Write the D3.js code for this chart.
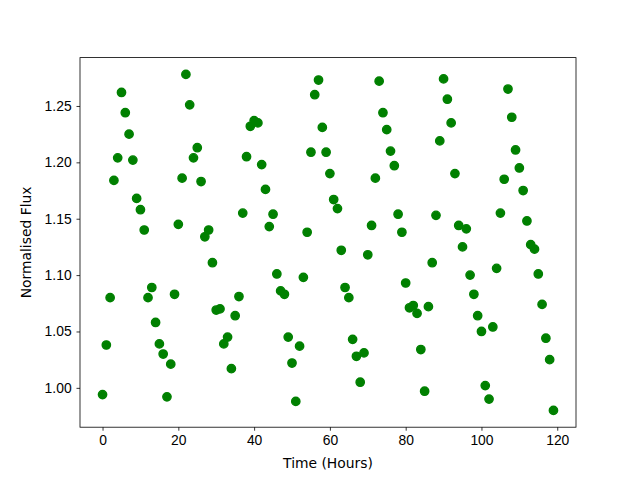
<!DOCTYPE html>
<html>
<head>
<meta charset="utf-8">
<script src="https://cdn.jsdelivr.net/npm/d3@7"></script>
<style>
  body { margin: 0; background: #fff; }
  svg { display: block; font-family: "DejaVu Sans", sans-serif; }
  .tick text { font-size: 13.89px; fill: #000; }
  .tick line { stroke: #000; stroke-width: 0.8; }
</style>
</head>
<body>
<div id="chart"></div>
<script>
// hours since start of observation
const hours = d3.range(0, 120);
// normalised flux, one value per hour
const flux = [
  0.994, 1.038, 1.080, 1.184, 1.204, 1.262, 1.244, 1.225, 1.202, 1.168,
  1.158, 1.140, 1.080, 1.089, 1.058, 1.039, 1.030, 0.992, 1.021, 1.083,
  1.145, 1.186, 1.278, 1.251, 1.204, 1.213, 1.183, 1.134, 1.140, 1.111,
  1.069, 1.070, 1.039, 1.045, 1.017, 1.064, 1.081, 1.155, 1.205, 1.232,
  1.237, 1.235, 1.198, 1.176, 1.143, 1.154, 1.101, 1.086, 1.083, 1.045,
  1.022, 0.988, 1.037, 1.098, 1.138, 1.209, 1.260, 1.273, 1.231, 1.209,
  1.190, 1.167, 1.159, 1.122, 1.089, 1.080, 1.043, 1.028, 1.005, 1.031,
  1.118, 1.144, 1.186, 1.272, 1.244, 1.229, 1.210, 1.197, 1.154, 1.138,
  1.093, 1.071, 1.073, 1.066, 1.034, 0.997, 1.072, 1.111, 1.153, 1.219,
  1.274, 1.256, 1.235, 1.190, 1.144, 1.125, 1.141, 1.100, 1.083, 1.064,
  1.050, 1.002, 0.990, 1.054, 1.106, 1.155, 1.185, 1.265, 1.240, 1.211,
  1.195, 1.175, 1.148, 1.127, 1.123, 1.101, 1.074, 1.044, 1.025, 0.980
];
const xTicks = [0, 20, 40, 60, 80, 100, 120];
const yTicks = [1.00, 1.05, 1.10, 1.15, 1.20, 1.25];

const width = 640, height = 480;
const margin = { top: 57.6, right: 64, bottom: 52.8, left: 80 };
const plotW = width - margin.left - margin.right;
const plotH = height - margin.top - margin.bottom;

// matplotlib style 5% padding around the data
function padded(ext) {
  const d = (ext[1] - ext[0]) * 0.05;
  return [ext[0] - d, ext[1] + d];
}

const x = d3.scaleLinear().domain(padded(d3.extent(hours))).range([0, plotW]);
const y = d3.scaleLinear().domain(padded(d3.extent(flux))).range([plotH, 0]);

const svg = d3.select("#chart").append("svg")
  .attr("width", width)
  .attr("height", height);

const g = svg.append("g")
  .attr("transform", "translate(" + margin.left + "," + margin.top + ")");

g.selectAll("circle")
  .data(hours)
  .enter().append("circle")
  .attr("cx", (d) => x(d))
  .attr("cy", (d, i) => y(flux[i]))
  .attr("r", 4.17)
  .attr("fill", "green")
  .attr("stroke", "green")
  .attr("stroke-width", 1.39);

const xAxis = g.append("g")
  .attr("transform", "translate(0," + plotH + ")")
  .call(d3.axisBottom(x).tickValues(xTicks).tickFormat(d3.format("d"))
    .tickSize(3.5).tickPadding(4.9).tickSizeOuter(0));
xAxis.select(".domain").remove();

const yAxis = g.append("g")
  .call(d3.axisLeft(y).tickValues(yTicks).tickFormat(d3.format(".2f"))
    .tickSize(3.5).tickPadding(4.9).tickSizeOuter(0));
yAxis.select(".domain").remove();

g.append("rect")
  .attr("width", plotW)
  .attr("height", plotH)
  .attr("fill", "none")
  .attr("stroke", "#000")
  .attr("stroke-width", 0.8);

svg.append("text")
  .attr("x", margin.left + plotW / 2)
  .attr("y", 468)
  .attr("text-anchor", "middle")
  .style("font-size", "13.89px")
  .text("Time (Hours)");

svg.append("text")
  .attr("transform", "translate(31," + (margin.top + plotH / 2) + ") rotate(-90)")
  .attr("text-anchor", "middle")
  .style("font-size", "13.89px")
  .text("Normalised Flux");
</script>
</body>
</html>
